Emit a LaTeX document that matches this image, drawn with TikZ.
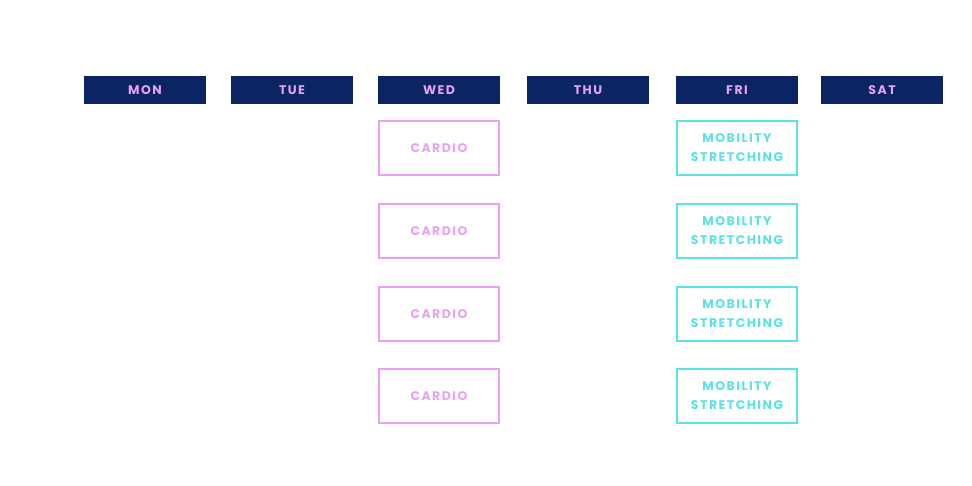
\documentclass[tikz,border=0pt]{standalone}
\usepackage{fontspec}
\setmainfont{Poppins}[LetterSpace=12]
\usetikzlibrary{positioning}
\definecolor{navy}{HTML}{0B2562}
\definecolor{lilac}{HTML}{E9A2F3}
\definecolor{aqua}{HTML}{5CE1E6}
\tikzset{
        x=1pt, y=1pt, % one unit is one pixel of the page
        day/.style={fill=navy, text=lilac, outer sep=0pt, minimum width=122pt, minimum height=28pt, inner sep=0pt, font=\fontsize{12.5}{14}\selectfont\bfseries},
        slot/.style={draw, line width=2pt, minimum width=120pt, minimum height=54pt, inner sep=0pt, align=center, font=\fontsize{12.5}{19}\selectfont\bfseries},
        cardio/.style={slot, draw=lilac, text=lilac},
        mobility/.style={slot, draw=aqua, text=aqua},
    }
\begin{document}
\begin{tikzpicture}[node distance=25pt]
    \useasboundingbox[fill=white] (0,0) rectangle (972,-486);
    % days
    \node[day] (mon) at (145,-90) {MON};
    \node[day, right=of mon] (tue) {TUE};
    \node[day, right=of tue] (wed) {WED};
    \node[day, right=27pt of wed] (thu) {THU};
    \node[day, right=27pt of thu] (fri) {FRI};
    \node[day, right=23pt of fri] (sat) {SAT};
    % wednesday
    \node[cardio, below=16pt of wed] (cardio1) {CARDIO};
    \node[cardio, below=27pt of cardio1] (cardio2) {CARDIO};
    \node[cardio, below=27pt of cardio2] (cardio3) {CARDIO};
    \node[cardio, below=26pt of cardio3] (cardio4) {CARDIO};
    % friday
    \node[mobility, below=16pt of fri] (mob1) {MOBILITY\\STRETCHING};
    \node[mobility, below=27pt of mob1] (mob2) {MOBILITY\\STRETCHING};
    \node[mobility, below=27pt of mob2] (mob3) {MOBILITY\\STRETCHING};
    \node[mobility, below=26pt of mob3] (mob4) {MOBILITY\\STRETCHING};
\end{tikzpicture}
\end{document}
